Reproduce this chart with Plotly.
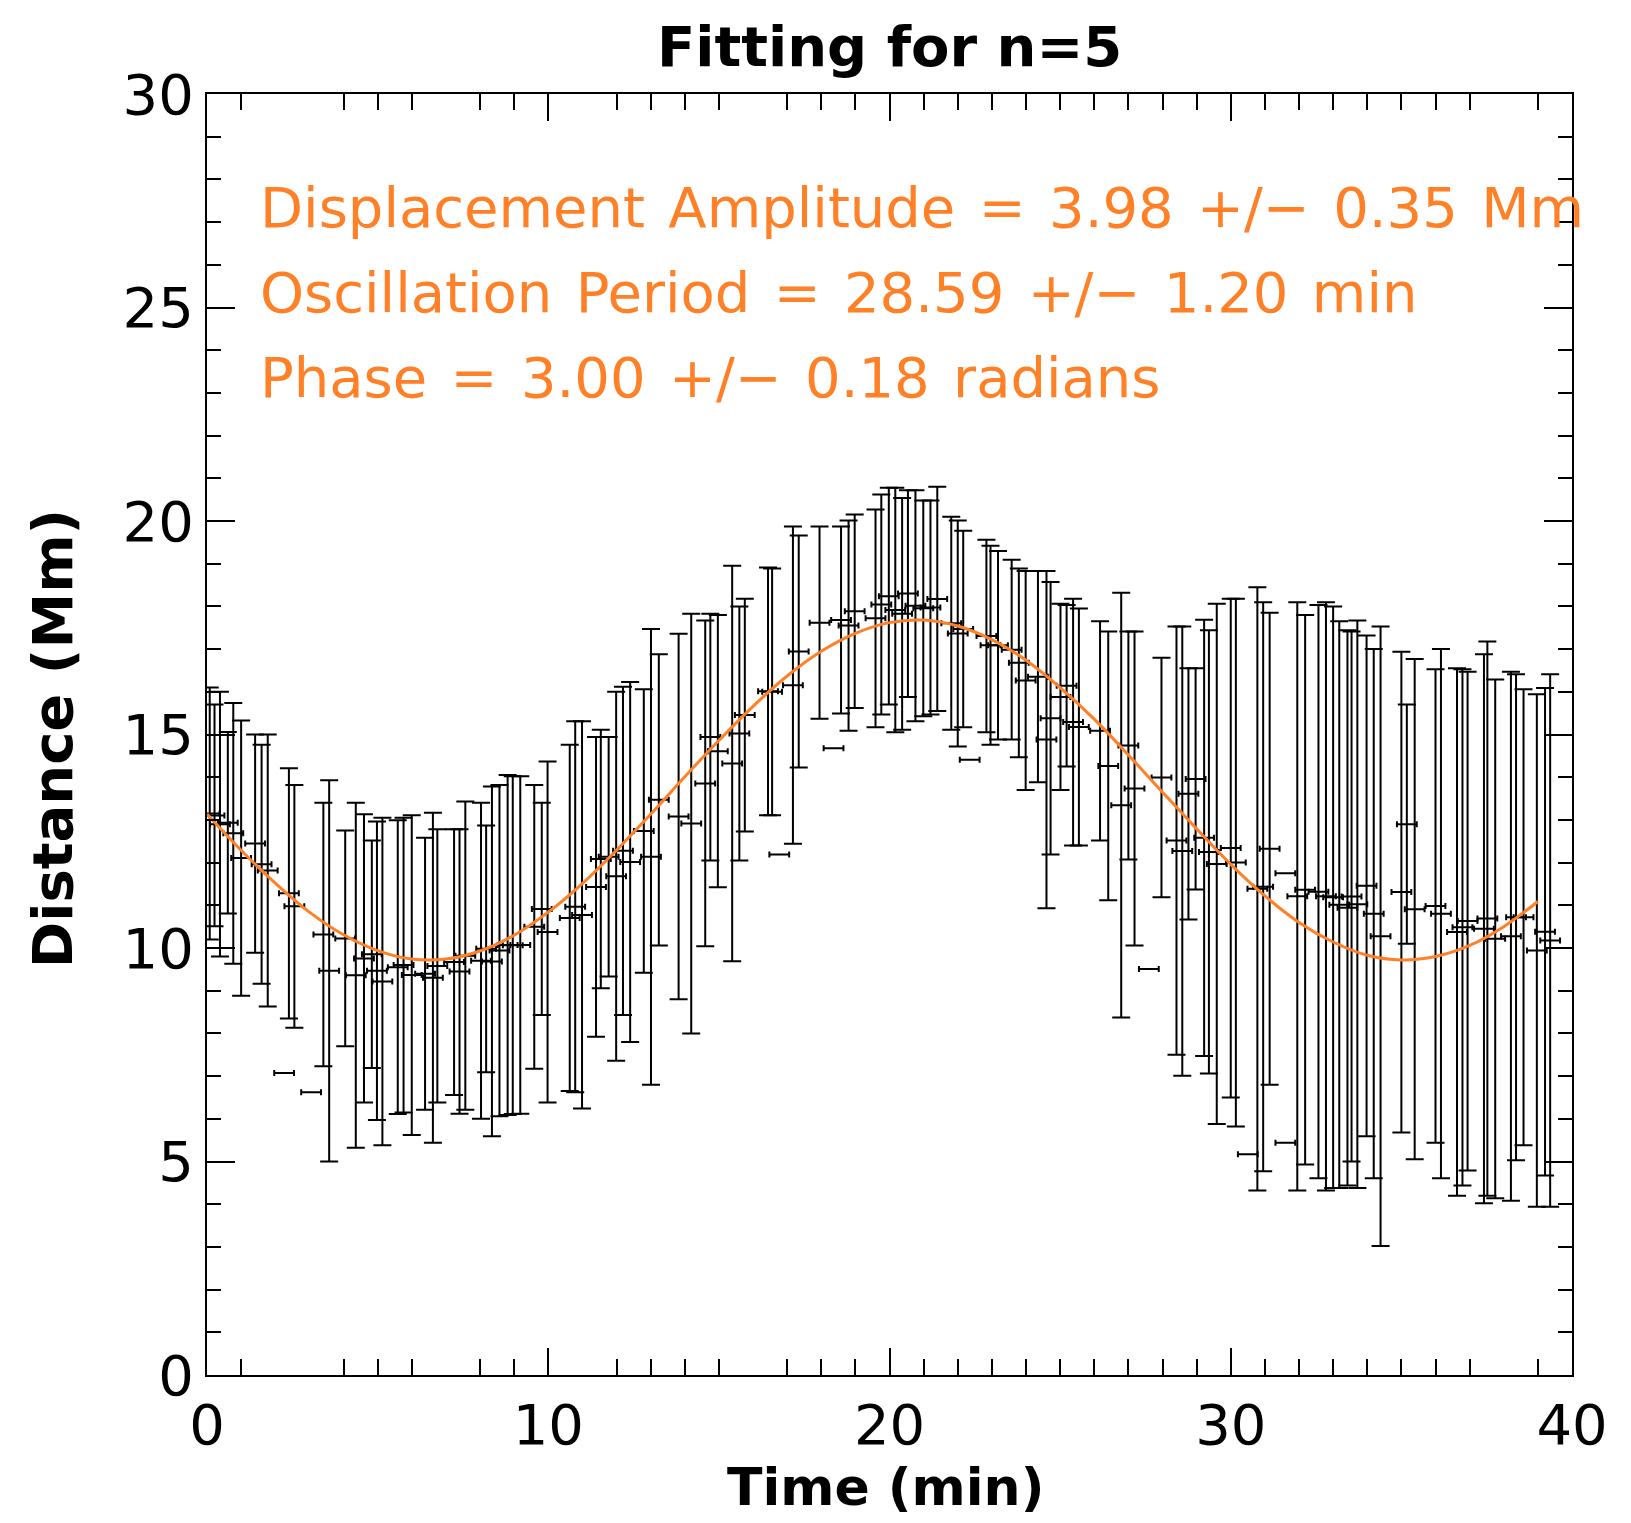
import plotly.graph_objects as go

# ---- data ----
time_min = [0.08,0.22,0.38,0.61,0.77,1.00,1.41,1.60,1.78,2.40,2.56,3.41,3.58,4.05,4.36,4.60,4.83,4.98,5.14,5.59,5.76,6.00,6.39,6.62,
            6.75,7.24,7.40,7.57,8.03,8.18,8.35,8.57,8.81,8.96,9.18,9.59,9.81,9.98,10.63,10.79,10.99,11.40,11.54,11.77,11.99,12.19,12.40,12.80,13.01,13.24,
            13.82,14.19,14.60,14.75,14.97,15.39,15.60,15.76,16.44,16.56,17.17,17.34,17.95,18.58,18.80,18.98,19.59,19.76,
            19.98,20.17,20.37,20.54,20.76,20.99,21.20,21.40,21.81,22.00,22.16,22.84,22.96,23.18,23.58,23.79,23.99,24.35,24.60,24.72,25.01,25.19,25.38,25.55,26.17,26.41,
            26.79,27.00,27.18,27.97,28.41,28.58,28.76,28.97,29.22,29.36,29.59,30.00,30.15,30.78,30.95,31.14,31.95,32.18,32.57,32.79,33.00,
            33.18,33.42,33.54,33.71,33.98,34.19,34.39,35.00,35.16,35.39,36.00,36.16,36.63,36.79,36.94,37.42,37.52,37.75,38.21,38.36,38.58,38.97,39.21,39.36]
upper_mm = [16.1,15.70,16.0,15.06,15.74,15.33,15.0,14.76,15.0,14.21,13.82,13.40,13.93,12.75,13.40,13.13,12.52,12.96,13.05,12.99,13.05,13.11,12.58,13.17,
            12.78,12.78,12.78,13.43,13.40,12.87,13.78,13.82,14.05,14.02,14.02,13.82,13.40,14.37,14.76,15.31,15.31,14.94,15.11,14.94,16.0,16.12,16.23,16.06,17.47,16.88,
            17.36,17.83,17.67,17.83,17.80,18.95,18.0,18.18,18.91,18.89,19.87,19.66,19.87,19.87,20.01,20.15,20.27,20.62,
            20.78,20.78,20.54,20.72,20.72,20.48,20.48,20.80,20.10,20.01,19.77,19.56,19.42,19.30,19.09,18.89,18.83,18.83,18.83,18.57,18.06,18.03,18.18,17.95,17.65,17.41,
            18.32,17.41,17.41,16.80,17.53,17.53,16.55,16.55,17.69,17.44,18.06,18.18,18.18,18.45,18.10,17.85,18.10,17.80,18.03,18.10,18.00,
            17.65,17.44,17.41,17.67,17.32,17.00,17.53,16.94,15.70,16.77,16.53,17.00,16.55,16.53,16.47,16.88,17.18,16.29,16.47,16.41,16.06,15.94,16.09,16.41]
lower_mm = [10.2,10.51,9.80,10.81,9.63,8.88,9.89,9.16,8.63,8.35,8.13,7.23,5.0,7.70,5.32,6.38,7.19,5.97,5.38,6.11,6.15,5.62,6.21,5.44,
            6.38,6.56,6.12,6.21,6.0,7.09,5.59,6.06,6.09,6.11,6.12,7.17,8.43,6.38,6.65,6.62,6.24,7.92,9.06,9.33,7.36,8.43,7.80,9.42,6.80,10.06,
            8.80,8.0,10.04,12.05,11.42,9.69,12.05,12.73,13.11,13.11,12.44,14.23,15.37,15.49,15.09,15.62,15.17,15.47,
            15.70,15.05,15.11,15.88,15.31,15.43,15.47,15.55,15.11,14.72,15.17,15.05,14.76,14.88,14.88,14.47,13.70,13.88,10.93,12.19,13.70,14.25,12.40,12.40,12.52,11.12,
            8.37,12.07,10.06,11.19,7.50,7.01,10.67,11.37,7.47,7.06,5.88,6.50,5.82,4.32,4.77,6.80,4.32,4.93,4.61,4.32,4.38,
            4.38,4.44,5.00,4.38,5.59,4.61,3.02,5.68,10.10,5.05,5.44,4.61,4.20,4.44,4.79,4.02,4.20,4.14,4.08,5.03,5.38,3.94,4.67,3.94]
time_err = 0.29

# points drawn only with their time error bar
dash_t = [2.26, 3.05, 16.77, 18.36, 22.35, 27.6, 30.5, 31.6, 31.6]
dash_y = [7.07, 6.62, 12.19, 14.68, 14.41, 9.51, 5.17, 11.75, 5.44]

# fitted sine curve, read at 1-minute steps
fit_t = list(range(0, 40))
fit_y = [13.14,12.29,11.52,10.84,10.31,9.94,9.74,9.74,9.93,10.30,10.84,11.51,12.29,13.13,14.01,14.86,15.66,16.37,16.95,17.37,
         17.62,17.68,17.54,17.22,16.74,16.10,15.36,14.52,13.65,12.79,11.96,11.22,10.60,10.14,9.83,9.72,9.80,10.06,10.50,11.09]

fit_text = ["Displacement Amplitude = 3.98 +/\u2212 0.35 Mm",
            "Oscillation Period = 28.59 +/\u2212 1.20 min",
            "Phase = 3.00 +/\u2212 0.18 radians"]
fit_text_y = [27.35, 25.36, 23.37]

x_major = [0, 10, 20, 30, 40]
x_minor = [1, 4, 5, 6, 8, 9, 12, 13, 14, 15, 17, 18, 19, 21, 22, 23, 24, 25, 26, 27, 28, 29,
           31, 32, 33, 34, 35, 36, 37, 39]
y_major = [0, 5, 10, 15, 20, 25, 30]
y_minor = [v for v in range(0, 31) if v % 5 != 0]

center = [(u + l) / 2 for u, l in zip(upper_mm, lower_mm)]
half = [(u - l) / 2 for u, l in zip(upper_mm, lower_mm)]

ORANGE = "#ff8026"
FONT = "DejaVu Sans"

fig = go.Figure()
fig.add_trace(go.Scatter(
    x=time_min, y=center, mode="markers",
    marker=dict(size=0.1, color="black"),
    error_y=dict(type="data", array=half, symmetric=True, color="black", thickness=2, width=9),
    error_x=dict(type="constant", value=time_err, color="black", thickness=2, width=3),
    showlegend=False, hoverinfo="skip"))
fig.add_trace(go.Scatter(
    x=dash_t, y=dash_y, mode="markers",
    marker=dict(size=0.1, color="black"),
    error_x=dict(type="constant", value=time_err, color="black", thickness=2, width=3),
    showlegend=False, hoverinfo="skip"))
fig.add_trace(go.Scatter(
    x=fit_t, y=fit_y, mode="lines", line=dict(color=ORANGE, width=3, shape="spline"),
    showlegend=False, hoverinfo="skip"))

for txt, yy in zip(fit_text, fit_text_y):
    fig.add_annotation(x=1.5, y=yy, xref="x", yref="y", text=txt.replace(" ", "\u200a "),
                       showarrow=False, xanchor="left", yanchor="middle",
                       font=dict(family=FONT, size=56, color=ORANGE))

fig.add_annotation(x=0.5, y=1.0367, xref="paper", yref="paper", text="<b>Fitting for n=5</b>",
                   showarrow=False, xanchor="center", yanchor="middle",
                   font=dict(family=FONT, size=56, color="black"))
fig.add_annotation(x=0.497, y=-0.0874, xref="paper", yref="paper", text="<b>Time (min)</b>",
                   showarrow=False, xanchor="center", yanchor="middle", borderpad=0,
                   font=dict(family=FONT, size=52, color="black"))
fig.add_annotation(x=-0.1136, y=0.497, xref="paper", yref="paper", text="<b>Distance (Mm)</b>",
                   showarrow=False, xanchor="center", yanchor="middle", textangle=-90,
                   font=dict(family=FONT, size=56, color="black"))

axis_common = dict(showline=True, linecolor="black", linewidth=2, mirror="allticks",
                   ticks="inside", tickcolor="black", tickwidth=1.6, showgrid=False,
                   zeroline=False, tickfont=dict(family=FONT, size=56, color="black"))
fig.update_xaxes(range=[0, 40], tickmode="array", tickvals=x_major,
                 ticktext=[str(v) for v in x_major], ticklen=27, ticklabelstandoff=0,
                 minor=dict(tickmode="array", tickvals=x_minor, ticks="inside", ticklen=16,
                            tickcolor="black", tickwidth=1.6, showgrid=False),
                 **axis_common)
fig.update_yaxes(range=[0, 30], tickmode="array", tickvals=y_major,
                 ticktext=[str(v) for v in y_major], ticklen=28, ticklabelstandoff=0,
                 minor=dict(tickmode="array", tickvals=y_minor, ticks="inside", ticklen=14,
                            tickcolor="black", tickwidth=1.6, showgrid=False),
                 **axis_common)

fig.update_layout(width=1631, height=1523, margin=dict(l=207, r=59, t=94, b=148),
                  paper_bgcolor="white", plot_bgcolor="white",
                  font=dict(family=FONT, color="black"))

fig.write_html("out.html", config={"displayModeBar": False},
               post_script="document.body.style.margin='0';")
